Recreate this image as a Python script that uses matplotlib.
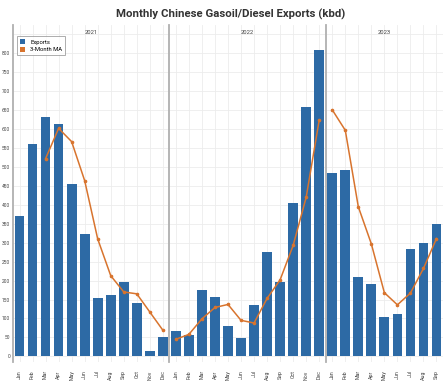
import matplotlib
matplotlib.use("Agg")
import matplotlib.pyplot as plt
from matplotlib.patches import Patch

plt.rcParams['font.family'] = ['Roboto', 'DejaVu Sans']

years = ["2021", "2022", "2023"]
months = ["Jan", "Feb", "Mar", "Apr", "May", "Jun", "Jul", "Aug", "Sep", "Oct", "Nov", "Dec"]

exports_2021 = [371, 561, 633, 613, 454, 324, 153, 161, 195, 140, 15, 51]
exports_2022 = [68, 55, 175, 156, 80, 48, 135, 275, 196, 405, 658, 809]
exports_2023 = [485, 493, 209, 191, 104, 112, 284, 298, 349]

ma_2021 = [None, None, 522, 602, 567, 464, 310, 213, 170, 165, 117, 69]
ma_2022 = [45, 58, 99, 129, 137, 95, 88, 153, 202, 293, 420, 624]
ma_2023 = [651, 597, 395, 297, 168, 136, 167, 232, 311]

exports = [exports_2021, exports_2022, exports_2023]
mas = [ma_2021, ma_2022, ma_2023]

yticks = list(range(0, 801, 50))

BAR = "#2d6aa5"
LINE = "#d8742e"

fig = plt.figure(figsize=(4.47, 3.82), dpi=100)
fig.patch.set_facecolor("white")
gs = fig.add_gridspec(1, 3, width_ratios=[12, 12, 9], wspace=0,
                      left=13/447, right=443/447, bottom=1-362/382, top=1-25/382)

axes = []
for i, yr in enumerate(years):
    ax = fig.add_subplot(gs[0, i], sharey=axes[0] if axes else None)
    axes.append(ax)
    vals = exports[i]
    n = len(vals)
    x = list(range(n))
    ax.bar(x, vals, width=0.75, color=BAR, zorder=2)
    mx = [j for j, v in enumerate(mas[i]) if v is not None]
    my = [v for v in mas[i] if v is not None]
    ax.plot(mx, my, color=LINE, lw=1.1, marker="o", ms=1.6, zorder=3)
    ax.set_xlim(-0.5, n - 0.5)
    ax.set_ylim(-15, 875)
    ax.set_xticks(x)
    ax.set_xticklabels(months[:n], rotation=90, fontsize=3.8, color="#444444")
    ax.set_yticks(yticks)
    ax.set_yticks([850], minor=True)
    ax.grid(True, which="both", color="#ececec", lw=0.6, zorder=0)
    ax.set_axisbelow(True)
    for s in ["top", "right", "bottom"]:
        ax.spines[s].set_visible(False)
    ax.spines["left"].set_color("#b0b0b0")
    ax.spines["left"].set_linewidth(1.3)
    ax.tick_params(axis="x", length=0, pad=6)
    ax.tick_params(axis="y", which="both", length=0, labelsize=3.5, labelcolor="#444444", pad=2)
    if i > 0:
        ax.tick_params(axis="y", labelleft=False)
    ax.text(0.5, 0.985, yr, transform=ax.transAxes, ha="center", va="top",
            fontsize=4.2, color="#444444")

handles = [Patch(facecolor=BAR, label="Exports"), Patch(facecolor=LINE, label="3-Month MA")]
leg = axes[0].legend(handles=handles, loc="upper left", bbox_to_anchor=(0.005, 0.975),
                     fontsize=4.2, frameon=True, fancybox=False, edgecolor="#888888",
                     handlelength=1.0, handleheight=0.9, borderpad=0.5, labelspacing=0.4)
leg.get_frame().set_linewidth(0.6)

fig.text(0.515, 1-14/382, "Monthly Chinese Gasoil/Diesel Exports (kbd)", ha="center", va="center",
         fontsize=8.2, fontweight="bold", color="#333333")

fig.savefig("out.png", dpi=100, facecolor="white")
